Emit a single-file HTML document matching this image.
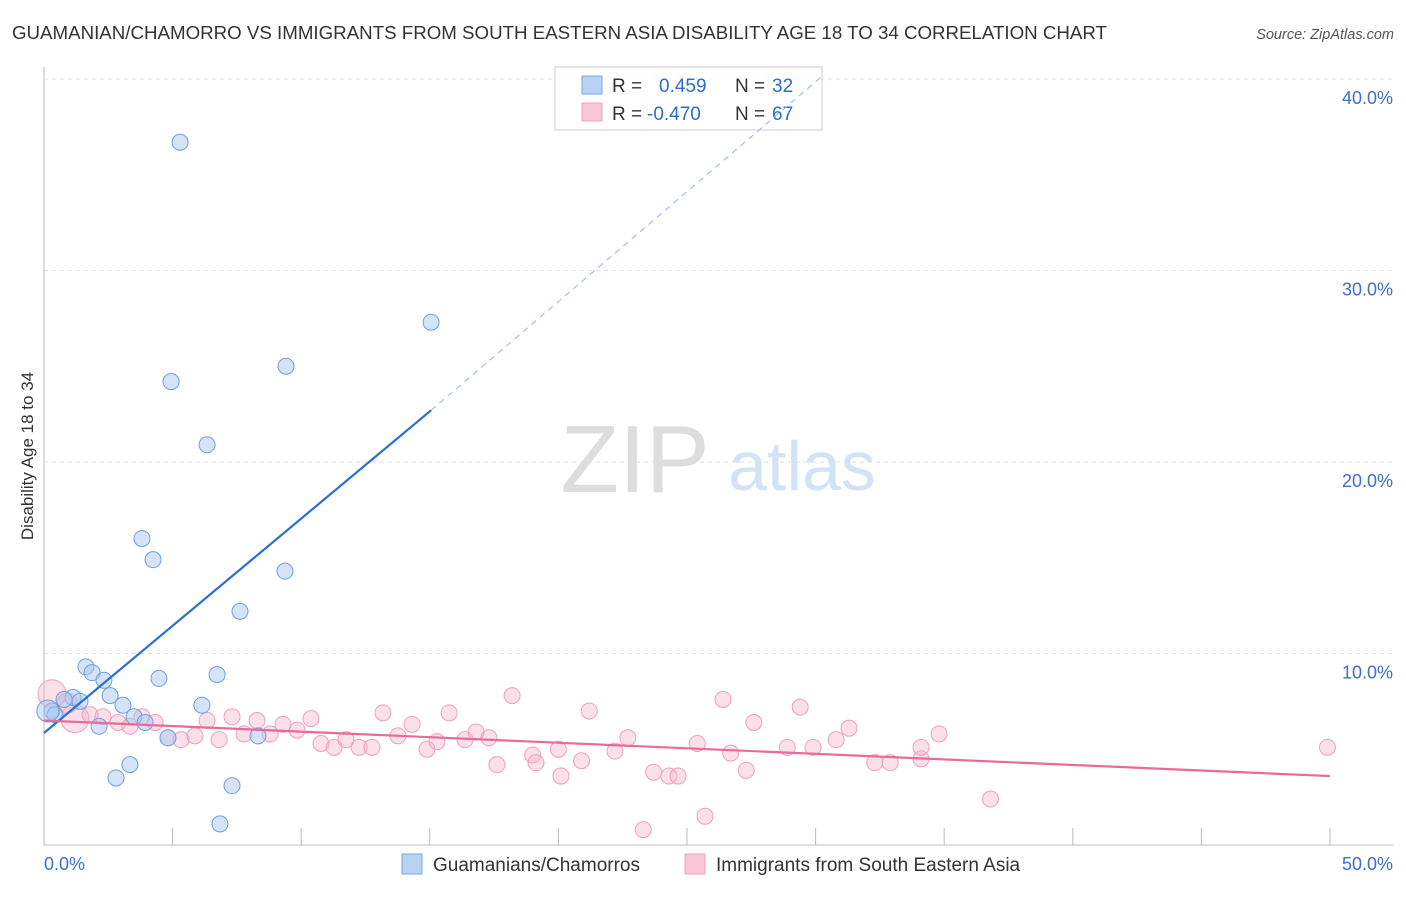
<!DOCTYPE html>
<html><head><meta charset="utf-8"><style>
body{margin:0;background:#fff;font-family:"Liberation Sans",sans-serif;}
svg text{font-family:"Liberation Sans",sans-serif;}
</style></head><body>
<svg width="1406" height="892" xmlns="http://www.w3.org/2000/svg" id="chart">
<text x="12" y="39" font-size="18" fill="#333" textLength="1095" lengthAdjust="spacingAndGlyphs">GUAMANIAN/CHAMORRO VS IMMIGRANTS FROM SOUTH EASTERN ASIA DISABILITY AGE 18 TO 34 CORRELATION CHART</text>
<text x="1394" y="39" font-size="14.5" fill="#555" text-anchor="end" font-style="italic">Source: ZipAtlas.com</text>
<text x="635" y="492" font-size="96" fill="#ddd" text-anchor="middle" font-family="Liberation Serif">ZIP</text>
<text x="802" y="490" font-size="70" fill="#d4e2f5" text-anchor="middle">atlas</text>
<text transform="translate(33,456) rotate(-90)" font-size="17" fill="#333" text-anchor="middle">Disability Age 18 to 34</text>
<g id="grid"></g><g id="pts"></g>
<g>
<rect x="555" y="67" width="267" height="63" fill="#fff" fill-opacity="0.85" stroke="#ccc"/>
<rect x="582" y="76" width="20" height="18" fill="#b8d2f3" stroke="#7aa6e0"/>
<text x="612" y="92" font-size="19" fill="#333">R =</text><text x="659" y="92" font-size="19" fill="#2d6bd1">0.459</text>
<text x="735" y="92" font-size="19" fill="#333">N =</text><text x="772" y="92" font-size="19" fill="#2d6bd1">32</text>
<rect x="582" y="103" width="20" height="18" fill="#f8c6d6" stroke="#eea0bb"/>
<text x="612" y="120" font-size="19" fill="#333">R =</text><text x="647" y="120" font-size="19" fill="#2d6bd1">-0.470</text>
<text x="735" y="120" font-size="19" fill="#333">N =</text><text x="772" y="120" font-size="19" fill="#2d6bd1">67</text>
</g>
<g id="lines"></g>
<g>
<rect x="402" y="854" width="20" height="20" fill="#b8d2f3" stroke="#7aa6e0"/>
<text x="433" y="871" font-size="19" fill="#333">Guamanians/Chamorros</text>
<rect x="685" y="854" width="20" height="20" fill="#f8c6d6" stroke="#eea0bb"/>
<text x="716" y="871" font-size="19" fill="#333">Immigrants from South Eastern Asia</text>
</g>
<text x="44" y="870" font-size="18" fill="#3b6fd0">0.0%</text>
<text x="1393" y="870" font-size="18" fill="#3b6fd0" text-anchor="end">50.0%</text>
</svg>
<script>
const yTicks=[10,20,30,40];
const xTicks=[0,5,10,15,20,25,30,35,40,45,50];
const blueX=[5.29,4.94,9.41,15.05,6.34,3.81,4.24,9.37,7.62,1.63,1.87,2.33,4.47,6.73,2.57,1.13,0.78,1.40,3.07,6.14,0.31,3.50,3.93,2.14,4.82,8.32,3.34,2.80,7.31,6.84,0.43,0.15];
const blueY=[36.7,24.2,25.0,27.3,20.9,16.0,14.9,14.3,12.2,9.3,9.0,8.6,8.7,8.9,7.8,7.7,7.6,7.5,7.3,7.3,7.0,6.7,6.4,6.2,5.6,5.7,4.2,3.5,3.1,1.1,6.8,7.0];
const pinkX=[0.31,1.2,1.79,2.29,2.88,3.34,3.81,4.32,4.82,5.33,5.87,6.34,6.81,7.31,7.78,8.28,8.79,9.29,9.84,10.38,10.77,11.28,11.74,12.25,12.75,13.18,13.76,14.31,14.89,15.28,15.75,16.37,16.80,17.30,17.61,18.2,19.0,19.13,20.0,20.1,20.9,21.2,22.2,22.7,23.3,23.7,24.3,24.65,25.4,25.7,26.4,26.7,27.3,27.6,28.9,29.4,29.9,30.8,31.3,32.3,32.9,34.1,34.1,34.8,36.8,49.9,0.9];
const pinkY=[7.9,6.6,6.8,6.7,6.4,6.2,6.7,6.4,5.6,5.5,5.7,6.5,5.5,6.7,5.8,6.5,5.8,6.3,6.0,6.6,5.3,5.1,5.5,5.1,5.1,6.9,5.7,6.3,5.0,5.4,6.9,5.5,5.9,5.6,4.2,7.8,4.7,4.3,5.0,3.6,4.4,7.0,4.9,5.6,0.8,3.8,3.6,3.6,5.3,1.5,7.6,4.8,3.9,6.4,5.1,7.2,5.1,5.5,6.1,4.3,4.3,4.5,5.1,5.8,2.4,5.1,7.4];
const blueLine=[[0,5.85],[15.05,22.7],[30.3,40.2]];
const pinkLine=[[0,6.5],[50,3.6]];
const X=v=>44+v*25.72, Y=v=>845-v*19.15;
const NS="http://www.w3.org/2000/svg";
function mk(t,a,p){const e=document.createElementNS(NS,t);for(const k in a)e.setAttribute(k,a[k]);p.appendChild(e);return e;}
const g=document.getElementById('grid');
let ax=mk('line',{x1:44,y1:67,x2:44,y2:845,stroke:'#bbb'},g);


let bx=mk('line',{x1:44,y1:845,x2:1393,y2:845,stroke:'#bbb'},g);


yTicks.forEach(t=>{
 const l=mk('line',{x1:44,y1:Y(t),x2:1393,y2:Y(t),stroke:'#ddd','stroke-dasharray':'4,4'},g);
 
 
 const tx=mk('text',{x:1393,y:Y(t)+25,'font-size':18,fill:'#3b6fd0','text-anchor':'end'},g);
 tx.textContent=t.toFixed(1)+'%';
 
 
});
xTicks.forEach(t=>{
 const l=mk('line',{x1:X(t),y1:828,x2:X(t),y2:845,stroke:'#bbb'},g);
 
 
});
const p=document.getElementById('pts');
pinkX.forEach((x,i)=>{
 const r=(i<2)?14:(i==66?10:8);
 const c=mk('circle',{cx:X(x),cy:Y(pinkY[i]),r:r,fill:'rgba(245,175,200,0.4)',stroke:'#f0a0bb','stroke-width':1},p);
 
 
});
blueX.forEach((x,i)=>{
 const r=(i==31)?11:8;
 const c=mk('circle',{cx:X(x),cy:Y(blueY[i]),r:r,fill:'rgba(170,200,240,0.5)',stroke:'#6f9fe0','stroke-width':1},p);
 
 
});
const L=document.getElementById('lines');
let b1=mk('line',{x1:X(blueLine[0][0]),y1:Y(blueLine[0][1]),x2:X(blueLine[1][0]),y2:Y(blueLine[1][1]),stroke:'#2a6fd6','stroke-width':2.2},L);


let b2=mk('line',{x1:X(blueLine[1][0]),y1:Y(blueLine[1][1]),x2:X(blueLine[2][0]),y2:Y(blueLine[2][1]),stroke:'#8fb4e8','stroke-width':1,'stroke-dasharray':'6,5'},L);


let p1=mk('line',{x1:X(pinkLine[0][0]),y1:Y(pinkLine[0][1]),x2:X(pinkLine[1][0]),y2:Y(pinkLine[1][1]),stroke:'#e8699a','stroke-width':2.2},L);


</script>
</body></html>
